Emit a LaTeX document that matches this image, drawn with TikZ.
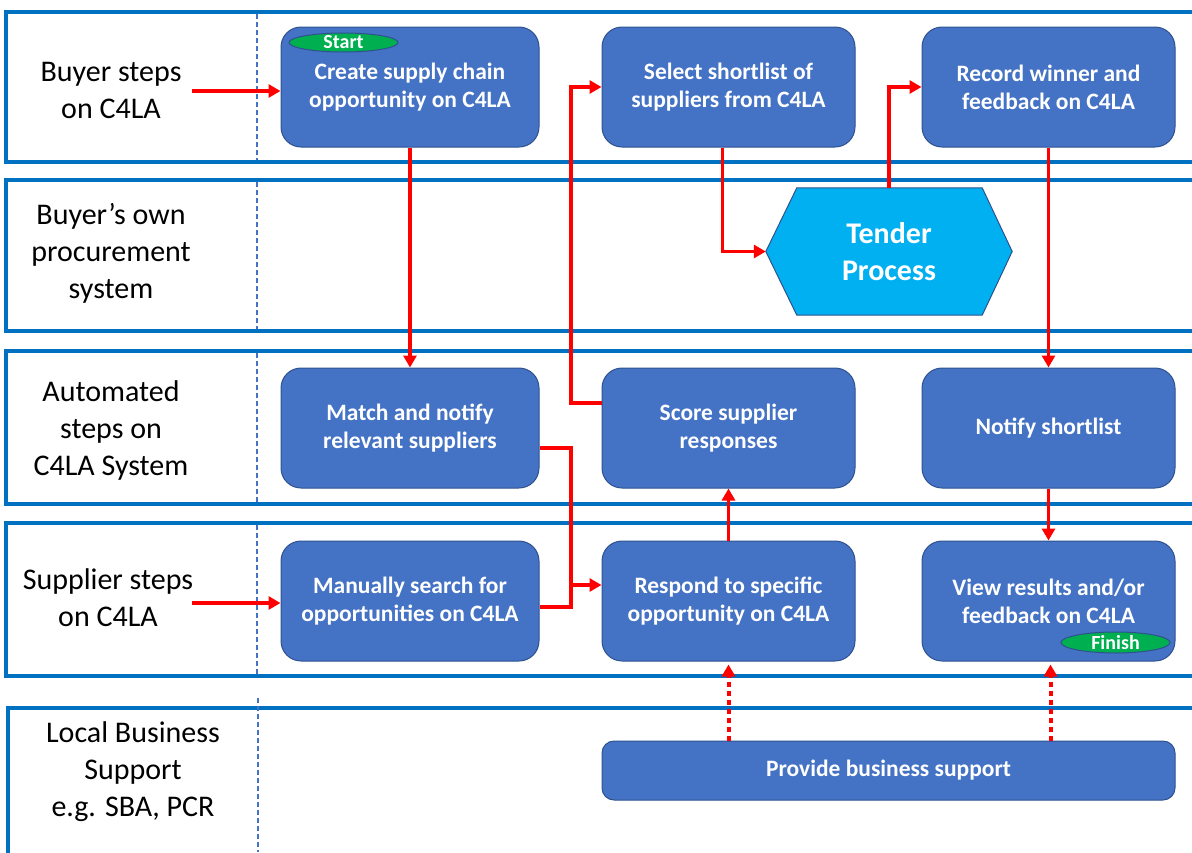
\documentclass[tikz,border=0pt]{standalone}
\usepackage{fontspec}
\setmainfont{Carlito}
\usetikzlibrary{arrows.meta,calc,shapes.geometric}
\definecolor{boxblue}{HTML}{4472C4}
\definecolor{boxedge}{HTML}{2F528F}
\definecolor{laneblue}{HTML}{0070C0}
\definecolor{tenderblue}{HTML}{00B0F0}
\definecolor{flaggreen}{HTML}{00B050}
\definecolor{flowred}{HTML}{FF0000}
\begin{document}
\begin{tikzpicture}[x=1pt,y=-1pt,
  lane/.style={draw=laneblue,line width=4pt},
  divider/.style={draw=boxblue,line width=1.5pt,dash pattern=on 5pt off 3pt},
  lanelabel/.style={font=\fontsize{30}{37}\selectfont,align=center,text=black},
  stepbox/.style={rectangle,rounded corners=20pt,fill=boxblue,draw=boxedge,line width=1pt,
    text=white,font=\fontsize{23.5}{28}\bfseries\selectfont,align=center,
    minimum width=256pt,minimum height=120pt,inner sep=0pt},
  flag/.style={ellipse,fill=flaggreen,draw=boxedge,line width=1pt,text=white,
    font=\fontsize{20}{20}\bfseries\selectfont,inner sep=0pt},
  redline/.style={draw=flowred,line width=3.5pt},
  flow/.style={redline,-{Triangle[length=12pt,width=13pt]}},
  dotflow/.style={draw=flowred,line width=4pt,dash pattern=on 5pt off 4pt,
    -{Triangle[length=12pt,width=13pt]}}
]
\useasboundingbox (0,0) rectangle (1192,852);
\clip (0,0) rectangle (1192,852);

% lanes
\draw[lane] (6,12) rectangle (1220,162);
\draw[lane] (6,180) rectangle (1220,331);
\draw[lane] (6,351) rectangle (1220,504);
\draw[lane] (6,523) rectangle (1220,676);
\draw[lane] (8,708) rectangle (1220,880);

% dividers
\draw[divider] (257,14) -- (257,160);
\draw[divider] (257,182) -- (257,329);
\draw[divider] (257,353) -- (257,502);
\draw[divider] (257,525) -- (257,674);
\draw[divider] (258,698) -- (258,852);

% lane labels
\node[lanelabel] (l1) at (111,90) {Buyer steps\\on C4LA};
\node[lanelabel] (l2) at (111,253) {Buyer’s own\\procurement\\system};
\node[lanelabel] (l3) at (111,430) {Automated\\steps on\\C4LA System};
\node[lanelabel] (l4) at (108,598) {Supplier steps\\on C4LA};
\node[lanelabel] (l5) at (133,772) {Local Business\\Support\\e.g. SBA, PCR};

% step boxes
\node[stepbox,minimum width=258pt] (create) at (410,87) {Create supply chain\\opportunity on C4LA};
\node[stepbox,minimum width=253pt] (select) at (728.5,87) {Select shortlist of\\suppliers from C4LA};
\node[stepbox,minimum width=253pt] (record) at (1048.5,87) {Record winner and\\feedback on C4LA};
\node[stepbox,minimum width=258pt] (match) at (410,428) {Match and notify\\relevant suppliers};
\node[stepbox,minimum width=253pt] (score) at (728.5,428) {Score supplier\\responses};
\node[stepbox,minimum width=253pt] (notify) at (1048.5,428) {Notify shortlist};
\node[stepbox,minimum width=258pt] (manual) at (410,601) {Manually search for\\opportunities on C4LA};
\node[stepbox,minimum width=253pt] (respond) at (728.5,601) {Respond to specific\\opportunity on C4LA};
\node[stepbox,minimum width=253pt] (view) at (1048.5,601) {View results and/or\\feedback on C4LA};
\node[stepbox,minimum width=573pt,minimum height=59pt,rounded corners=12pt] (provide) at (888.5,770.5) {Provide business support};

% tender process hexagon
\node[minimum width=246pt,minimum height=127pt,inner sep=0pt] (tender) at (889,251.5) {};
\filldraw[fill=tenderblue,draw=boxedge,line width=1pt]
  (tender.west) -- ([xshift=31pt]tender.north west) -- ([xshift=-30pt]tender.north east)
  -- (tender.east) -- ([xshift=-30pt]tender.south east) -- ([xshift=31pt]tender.south west) -- cycle;
\node[text=white,font=\fontsize{30}{37}\bfseries\selectfont,align=center] (tendertext) at (tender.center) {Tender\\Process};

% flags
\node[flag,minimum width=109pt,minimum height=19pt] (start) at (343.5,42.5) {Start};
\node[flag,minimum width=109pt,minimum height=21pt] (finish) at (1115.5,642.5) {Finish};

% connectors
\coordinate (bin) at (192,91);
\coordinate (sin) at (192,603);
\coordinate (jx) at (571,0);
\draw[flow] (bin) -- (bin -| create.west);
\draw[flow] (sin) -- (sin -| manual.west);
\draw[flow] (create.south) -- (match.north);
\draw[flow] ([yshift=25pt]score.west) -- ([yshift=25pt]score.west -| jx) |- (select.west);
\draw[redline] ([yshift=-20pt]match.east) -- ([yshift=-20pt]match.east -| jx)
  -- ([yshift=-6pt]manual.east -| jx) -- ([yshift=-6pt]manual.east);
\draw[flow] ([yshift=16pt]respond.west -| jx) -- ([yshift=16pt]respond.west);
\draw[flow] (respond.north) -- (score.south);
\draw[flow] ([xshift=-6pt]select.south) |- (tender.west);
\draw[flow] (tender.north) |- (record.west);
\draw[flow] (record.south) -- (notify.north);
\draw[flow] (notify.south) -- (view.north);
\draw[dotflow,shorten >=3pt] (provide.north -| respond.south) -- (respond.south);
\draw[dotflow,shorten >=3pt] ([xshift=2pt]provide.north -| view.south) -- ([xshift=2pt]view.south);
\end{tikzpicture}
\end{document}
